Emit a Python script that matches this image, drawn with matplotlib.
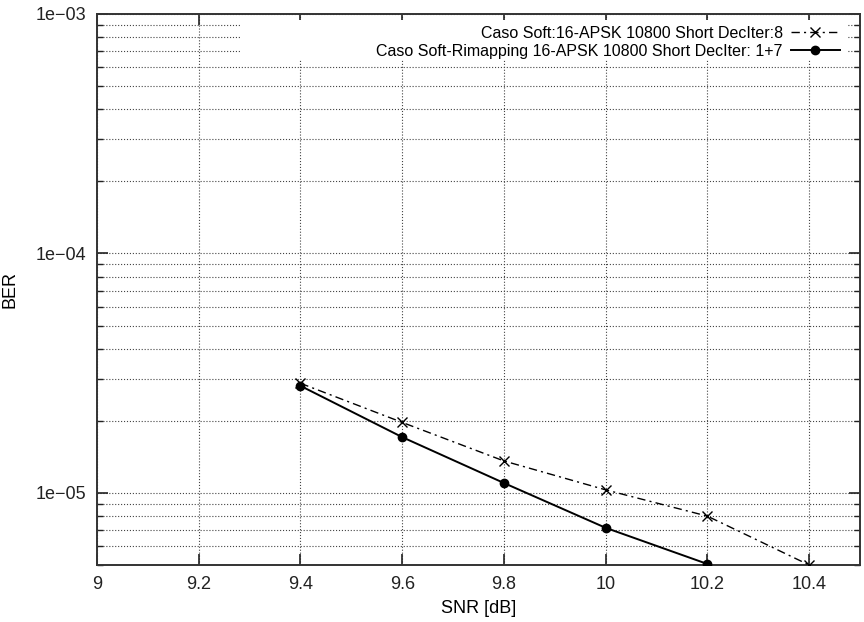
import math
import matplotlib
matplotlib.use("Agg")
import matplotlib.pyplot as plt
from matplotlib.patches import Rectangle
from matplotlib.ticker import LogLocator, FixedLocator, FuncFormatter, NullFormatter

plt.rcParams["font.family"] = ["Liberation Sans", "DejaVu Sans"]

# dati
snr_soft = [9.4, 9.6, 9.8, 10.0, 10.2, 10.4]
ber_soft = [2.87e-5, 1.97e-5, 1.36e-5, 1.03e-5, 8.0e-6, 5.0e-6]
snr_remap = [9.4, 9.6, 9.8, 10.0, 10.2]
ber_remap = [2.8e-5, 1.71e-5, 1.10e-5, 7.15e-6, 5.05e-6]

label_soft = "Caso Soft:16-APSK 10800 Short DecIter:8"
label_remap = "Caso Soft-Rimapping 16-APSK 10800 Short DecIter: 1+7"

x_ticks = [9, 9.2, 9.4, 9.6, 9.8, 10, 10.2, 10.4]

fig = plt.figure(figsize=(8.64, 6.22), dpi=100)
ax = fig.add_axes([0.1123, 0.0916, 0.8831, 0.8859])

ax.plot(snr_soft, ber_soft, color="black", linestyle=(0, (6, 3, 1.5, 3)),
        linewidth=1.0, marker="x", markersize=7, markeredgewidth=1.0,
        label=label_soft, zorder=3)
ax.plot(snr_remap, ber_remap, color="black", linestyle="-", linewidth=1.4,
        marker="o", markersize=6, label=label_remap, zorder=3)

ax.set_yscale("log")
ax.set_xlim(9, 10.5)
ax.set_ylim(5e-6, 1e-3)

ax.xaxis.set_major_locator(FixedLocator(x_ticks))
ax.xaxis.set_major_formatter(FuncFormatter(lambda v, p: f"{v:g}"))
ax.yaxis.set_major_locator(LogLocator(base=10, numticks=10))
ax.yaxis.set_minor_locator(LogLocator(base=10, subs=range(2, 10), numticks=20))
ax.yaxis.set_major_formatter(
    FuncFormatter(lambda v, p: "1e\u2212%02d" % round(-math.log10(v))))
ax.yaxis.set_minor_formatter(NullFormatter())

ax.tick_params(which="both", direction="in", top=True, right=True,
               labelsize=13, colors="#222222", pad=8)
ax.tick_params(which="major", length=8, width=1.2)
ax.tick_params(which="minor", length=4, width=1.0)

ax.grid(which="major", axis="x", linestyle=":", color="#444444", linewidth=0.8)
ax.grid(which="both", axis="y", linestyle=":", color="#444444", linewidth=0.8)
ax.set_axisbelow(True)

for s in ax.spines.values():
    s.set_linewidth(1.4)
    s.set_color("#333333")

ax.set_xlabel("SNR [dB]", fontsize=13, labelpad=5)
ax.set_ylabel("BER", fontsize=13, labelpad=12)

# sfondo bianco della legenda (copre la griglia come in gnuplot)
ax.add_patch(Rectangle((0.187, 0.917), 0.796, 0.073, transform=ax.transAxes,
                       facecolor="white", edgecolor="none", zorder=1))

leg = ax.legend(loc="upper right", bbox_to_anchor=(0.974, 0.979), markerfirst=False,
                fontsize=11.5, handlelength=3.1, frameon=False,
                borderpad=0.0, labelspacing=0.22, handletextpad=0.5,
                borderaxespad=0.0)
for t in leg.get_texts():
    t.set_ha("right")

fig.savefig("out.png", dpi=100)
